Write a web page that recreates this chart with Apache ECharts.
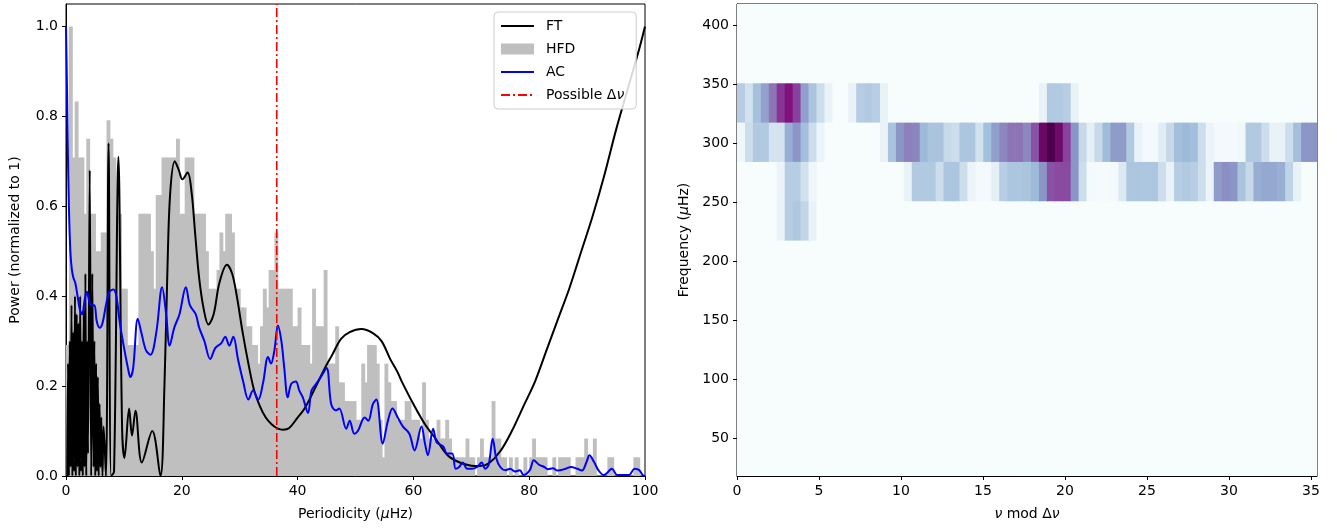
<!DOCTYPE html>
<html><head><meta charset="utf-8">
<script src="https://cdn.jsdelivr.net/npm/echarts@6/dist/echarts.min.js"></script>
<style>html,body{margin:0;padding:0;background:#fff}#c{width:1337px;height:529px}</style>
</head><body><div id="c"></div>
<script>
// ---------- Left panel data ----------
const hfdBinWidth = 0.5;          // μHz per histogram bin
const hfdMaxCount = 24;           // normalisation (tallest bin)
const hfdCounts = [
  7,24,17,20,17,17,14,18,14,14,
  12,12,13,13,19,18,17,14,14,10,
  10,7,7,7,7,14,14,14,14,12,
  10,15,15,17,17,17,17,17,18,14,
  14,17,17,17,14,14,14,14,12,10,
  10,10,11,13,12,14,14,13,10,10,
  9,9,8,8,7,7,6,8,10,9,
  11,11,13,10,10,10,10,10,8,8,
  9,7,7,7,6,10,8,8,8,11,
  6,6,6,8,5,5,4,4,4,4,
  3,3,6,5,7,7,7,6,3,1,
  6,5,4,4,3,3,3,4,4,3,
  3,3,2,5,3,2,2,2,3,2,
  2,3,2,1,1,1,1,1,2,1,
  1,0,1,2,1,1,1,4,2,2,
  1,1,0,1,0,1,0,0,1,0,
  1,2,1,1,1,1,0,0,1,0,
  1,1,1,1,0,0,1,1,1,2,
  1,1,2,0,0,0,0,1,1,0,
  0,0,0,0,0,0,1,1,0,0
];
const ftX = [0.2,0.35,0.5,0.65,0.8,0.95,1.1,1.25,1.4,1.55,1.7,1.85,2.0,2.15,2.3,2.45,2.6,2.75,2.9,3.05,3.2,3.35,3.5,3.65,3.8,4.1,4.35,4.55,4.75,4.9,5.05,5.2,5.35,5.5,5.65,5.8,5.95,6.1,6.3,6.5,6.9,7.35,7.8,8.3,9.05,9.7,10.1,10.9,11.4,12.0,13.1,14.9,16.3,17.0,17.5,18.0,18.8,19.5,20.1,21.0,21.7,22.3,23.0,23.8,24.6,25.5,26.5,27.8,28.7,29.5,30.5,31.5,32.5,33.5,34.5,35.5,36.5,37.5,38.5,40,41.2,43,44.7,46,47.5,49,51,53,54.5,56,57.3,58,60,62,64,66,68,70,71.5,73,75,77,79,81,83,85,87,89,91,93,95,97,99,100];
const ftY = [0.0,0.25,0.0,0.30,0.02,0.38,0.0,0.32,0.01,0.40,0.0,0.36,0.02,0.34,0.0,0.40,0.01,0.30,0.0,0.37,0.02,0.45,0.0,0.30,0.05,0.68,0.0,0.45,0.02,0.30,0.0,0.25,0.01,0.22,0.0,0.16,0.02,0.13,0.0,0.11,0.0,0.74,0.0,0.01,0.71,0.1,0.04,0.15,0.09,0.145,0.03,0.10,0.0,0.2,0.45,0.63,0.70,0.68,0.66,0.675,0.63,0.54,0.44,0.37,0.337,0.36,0.43,0.47,0.45,0.40,0.32,0.25,0.19,0.155,0.13,0.115,0.106,0.103,0.106,0.13,0.15,0.195,0.24,0.27,0.305,0.32,0.327,0.318,0.30,0.26,0.23,0.21,0.16,0.115,0.08,0.045,0.03,0.023,0.022,0.028,0.055,0.1,0.155,0.21,0.28,0.35,0.42,0.5,0.58,0.67,0.77,0.86,0.95,1.0];
const acX = [0,0.15,0.3,0.5,0.75,1.0,1.3,1.6,2.0,2.4,2.8,3.2,3.6,4.0,4.4,4.9,5.3,5.8,6.3,6.9,7.5,8.2,8.7,9.3,10.1,10.7,11.1,11.6,12.4,13.0,13.8,14.6,15.6,16.6,17.3,17.9,18.7,19.6,20.7,21.4,22.4,23.0,23.9,24.9,25.8,26.8,27.5,28.2,28.9,29.7,30.6,31.5,32.3,33.2,34.0,34.9,35.4,36.0,36.6,37.2,37.7,38.3,38.9,39.7,40.3,40.9,41.8,42.4,43.2,44.0,45.0,45.8,46.6,47.2,48.4,49.0,49.8,50.4,51.6,52.2,53.0,53.6,54.7,55.6,56.4,57.3,58.2,59.3,60.2,61.4,62.0,62.5,63.4,64.0,64.6,65.2,65.8,66.7,67.3,67.9,68.5,69.3,70.1,71.0,71.8,72.4,73.0,73.7,74.3,75.0,75.9,76.7,77.6,78.4,79.0,80.1,80.8,81.7,82.6,83.2,84.1,84.9,86.3,87.2,88.3,89.1,89.9,90.4,91.2,92.0,92.9,94.3,95.2,96.0,97.2,98.2,99.0,99.6,100];
const acY = [1.0,0.88,0.74,0.6,0.5,0.46,0.44,0.43,0.40,0.37,0.36,0.39,0.41,0.39,0.38,0.38,0.345,0.33,0.34,0.38,0.41,0.415,0.40,0.34,0.28,0.24,0.22,0.24,0.35,0.32,0.28,0.27,0.32,0.42,0.36,0.29,0.33,0.36,0.42,0.38,0.36,0.33,0.30,0.26,0.285,0.295,0.31,0.29,0.31,0.26,0.21,0.17,0.19,0.17,0.205,0.265,0.25,0.28,0.335,0.30,0.24,0.175,0.205,0.21,0.19,0.175,0.14,0.19,0.205,0.22,0.24,0.16,0.146,0.15,0.105,0.123,0.094,0.10,0.13,0.123,0.16,0.17,0.072,0.123,0.15,0.13,0.11,0.094,0.057,0.11,0.072,0.046,0.105,0.075,0.07,0.065,0.05,0.05,0.016,0.02,0.03,0.016,0.016,0.02,0.03,0.016,0.025,0.083,0.04,0.02,0.013,0.016,0.01,0.013,0.002,0.013,0.035,0.025,0.02,0.015,0.017,0.012,0.016,0.02,0.016,0.012,0.031,0.046,0.031,0.012,0.002,0.016,0.002,0.002,0.002,0.016,0.013,0.002,0.0];
const deltaNu = 36.4;
const leftXTicks = [0,20,40,60,80,100];
const leftYTicks = [0,0.2,0.4,0.6,0.8,1.0];

// ---------- Right panel (echelle) data ----------
const echelleXMax = 35.37;
const echelleCols = 73;
const echelleFreqStart = 17.8;
const echelleRowHeight = 33.33;
const rightXTicks = [0,5,10,15,20,25,30,35];
const rightYTicks = [50,100,150,200,250,300,350,400];
const echelleRow6 = [0,0,0,0,0,0.07,0.28,0.31,0.24,0.08, 0,0,0,0,0,0,0,0,0,0, 0,0,0,0,0,0,0,0,0,0, 0,0,0,0,0,0,0,0,0,0, 0,0,0,0,0,0,0,0,0,0, 0,0,0,0,0,0,0,0,0,0, 0,0,0,0,0,0,0,0,0,0, 0,0,0];
const echelleRow7 = [0,0,0,0,0,0.06,0.28,0.28,0.18,0.05, 0,0,0,0,0,0,0,0,0,0, 0,0.08,0.3,0.3,0.3,0.2,0.32,0.32,0.2,0.06, 0.02,0.02,0.1,0.28,0.32,0.32,0.33,0.38,0.5,0.7, 0.72,0.72,0.5,0.2,0.02,0.01,0.01,0.02,0.14,0.32, 0.32,0.32,0.32,0.2,0.08,0.28,0.3,0.28,0.2,0.06, 0.48,0.52,0.5,0.33,0.22,0.42,0.44,0.44,0.42,0.25, 0.08,0,0];
const echelleRow8 = [0.04,0.2,0.3,0.3,0.17,0.17,0.42,0.5,0.36,0.2, 0.06,0,0,0,0,0,0,0,0.08,0.33, 0.5,0.56,0.55,0.38,0.33,0.33,0.22,0.2,0.32,0.32, 0.18,0.36,0.47,0.54,0.6,0.6,0.54,0.7,0.93,1.0, 0.92,0.75,0.5,0.22,0.1,0.22,0.37,0.48,0.48,0.3, 0.08,0.02,0.02,0.12,0.22,0.36,0.38,0.36,0.2,0.06, 0.02,0.02,0.02,0.03,0.3,0.3,0.2,0.08,0.08,0.2, 0.36,0.5,0.5];
const echelleRow9 = [0.28,0.18,0.35,0.46,0.6,0.78,0.87,0.75,0.47,0.33, 0.2,0.08,0,0,0.08,0.28,0.3,0.28,0.08,0, 0,0,0,0,0,0,0,0,0,0, 0,0,0,0,0,0,0,0,0.08,0.3, 0.3,0.28,0.08,0,0,0,0,0,0,0, 0,0,0,0,0,0,0,0,0,0, 0,0,0,0,0,0,0,0,0,0, 0,0,0];
const emptyRow = new Array(echelleCols).fill(0);
const echelleRows = [emptyRow,emptyRow,emptyRow,emptyRow,emptyRow,emptyRow,echelleRow6,echelleRow7,echelleRow8,echelleRow9,emptyRow,emptyRow];
const buPu = ['#f7fcfd','#e0ecf4','#bfd3e6','#9ebcda','#8c96c6','#8c6bb1','#88419d','#810f7c','#4d004b'];

// ---------- build ----------
const colW = echelleXMax / echelleCols;
const heatData = [];
echelleRows.forEach((row, r) => row.forEach((v, c) => heatData.push([c * colW, echelleFreqStart + r * echelleRowHeight, v])));
const hfdData = hfdCounts.map((c, i) => [i * hfdBinWidth, c / hfdMaxCount]);
const ftData = ftX.map((x, i) => [x, ftY[i]]);
const acData = acX.map((x, i) => [x, acY[i]]);

const FONT = 'DejaVu Sans';
const txt = {color:'#000', fontFamily:FONT, fontSize:14};
const axisCommon = {
  axisLine:{show:true, onZero:false, lineStyle:{color:'#000', width:1}},
  axisTick:{show:true, length:4, lineStyle:{color:'#000', width:1}},
  splitLine:{show:false},
  nameLocation:'middle',
  nameTextStyle:Object.assign({}, txt, {rich:{i:{fontStyle:'italic', fontFamily:FONT, fontSize:14, color:'#000'}}})
};
const noSymbol = {opacity:0, color:'rgba(0,0,0,0)', borderWidth:0};

const chart = echarts.init(document.getElementById('c'), null, {renderer:'canvas'});
chart.setOption({
  animation:false,
  backgroundColor:'#fff',
  textStyle:{fontFamily:FONT},
  grid:[
    {left:66, right:692, top:4, bottom:53, show:true, borderColor:'#000', borderWidth:1, backgroundColor:'#fff'},
    {left:737, right:20, top:4, bottom:53, show:true, borderColor:'#000', borderWidth:1, backgroundColor:buPu[0]}
  ],
  xAxis:[
    Object.assign({}, axisCommon, {type:'value', gridIndex:0, min:0, max:100, interval:20,
      name:'Periodicity ({i|μ}Hz)', nameGap:31,
      axisTick:Object.assign({}, axisCommon.axisTick, {customValues:leftXTicks}),
      axisLabel:Object.assign({}, txt, {margin:8, customValues:leftXTicks})}),
    Object.assign({}, axisCommon, {type:'value', gridIndex:1, min:0, max:echelleXMax, interval:5,
      name:'{i|ν} mod Δ{i|ν}', nameGap:31,
      axisTick:Object.assign({}, axisCommon.axisTick, {customValues:rightXTicks}),
      axisLabel:Object.assign({}, txt, {margin:8, customValues:rightXTicks})})
  ],
  yAxis:[
    Object.assign({}, axisCommon, {type:'value', gridIndex:0, min:0, max:1.05, interval:0.2,
      name:'Power (normalized to 1)', nameGap:44,
      axisTick:Object.assign({}, axisCommon.axisTick, {customValues:leftYTicks}),
      axisLabel:Object.assign({}, txt, {margin:8, customValues:leftYTicks, formatter:v => v.toFixed(1)})}),
    Object.assign({}, axisCommon, {type:'value', gridIndex:1, min:echelleFreqStart, max:echelleFreqStart + 12 * echelleRowHeight,
      name:'Frequency ({i|μ}Hz)', nameGap:46,
      axisTick:Object.assign({}, axisCommon.axisTick, {customValues:rightYTicks}),
      axisLabel:Object.assign({}, txt, {margin:8, customValues:rightYTicks})})
  ],
  visualMap:{type:'continuous', show:false, min:0, max:1, dimension:2, seriesIndex:4, inRange:{color:buPu}},
  legend:{
    orient:'vertical', left:494, top:12, padding:[6,12,6,6], itemGap:7, itemWidth:33, itemHeight:11,
    backgroundColor:'rgba(255,255,255,0.85)', borderColor:'#cccccc', borderWidth:1, borderRadius:4,
    textStyle:Object.assign({}, txt, {lineHeight:16, padding:[0,0,0,7], rich:{i:{fontStyle:'italic', fontFamily:FONT, fontSize:14, color:'#000'}}}),
    formatter:n => n === 'Possible Δν' ? 'Possible Δ{i|ν}' : n,
    data:[
      {name:'FT', itemStyle:noSymbol},
      {name:'HFD', icon:'rect'},
      {name:'AC', itemStyle:noSymbol},
      {name:'Possible Δν', itemStyle:noSymbol}
    ]
  },
  series:[
    {name:'HFD', type:'custom', xAxisIndex:0, yAxisIndex:0, clip:true, data:hfdData, z:1,
      itemStyle:{color:'#bfbfbf'},
      renderItem:(params, api) => {
        const x0 = api.value(0), v = api.value(1);
        if (!(v > 0)) return null;
        const a = api.coord([x0, v]);
        const b = api.coord([x0 + hfdBinWidth, 0]);
        return {type:'rect', shape:{x:a[0], y:a[1], width:b[0]-a[0]+1, height:b[1]-a[1]}, style:{fill:'#bfbfbf'}};
      }},
    {name:'FT', type:'line', xAxisIndex:0, yAxisIndex:0, data:ftData, symbol:'none', smooth:0.35, z:3,
      lineStyle:{color:'#000000', width:2}, itemStyle:{color:'#000000'}},
    {name:'AC', type:'line', xAxisIndex:0, yAxisIndex:0, data:acData, symbol:'none', smooth:0.35, z:4,
      lineStyle:{color:'#0000ff', width:2}, itemStyle:{color:'#0000ff'}},
    {name:'Possible Δν', type:'line', xAxisIndex:0, yAxisIndex:0, data:[[deltaNu,0],[deltaNu,1.05]], symbol:'none', z:5,
      lineStyle:{color:'#ff0000', width:1.6, type:[9,3,2,3]}, itemStyle:{color:'#ff0000'}},
    {type:'custom', xAxisIndex:1, yAxisIndex:1, clip:true, data:heatData, z:1,
      encode:{x:0, y:1},
      renderItem:(params, api) => {
        const x0 = api.value(0), f0 = api.value(1);
        const a = api.coord([x0, f0 + echelleRowHeight]);
        const b = api.coord([x0 + colW, f0]);
        return {type:'rect', shape:{x:a[0], y:a[1], width:b[0]-a[0]+0.6, height:b[1]-a[1]+0.6}, style:{fill:api.visual('color')}};
      }}
  ]
});
</script></body></html>
